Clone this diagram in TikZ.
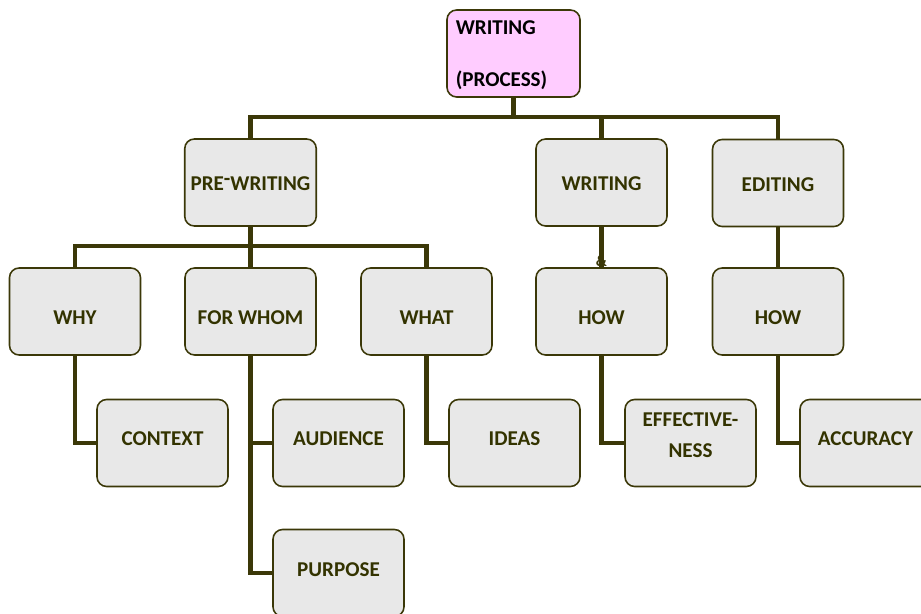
\documentclass[tikz,border=0pt]{standalone}
\usepackage{fontspec}
\setmainfont{Carlito}
\usepackage{xcolor}
\usetikzlibrary{calc}
\definecolor{olive}{HTML}{3B3808}
\definecolor{inkdark}{HTML}{333300}
\definecolor{boxgray}{HTML}{E8E8E8}
\definecolor{boxpink}{HTML}{FFCCFF}
% move a label inside its box without changing the box
\newcommand{\nudge}[2]{\raisebox{#1}[\height][\depth]{#2}}

\begin{document}
\begin{tikzpicture}[
        box/.style={draw=olive,line width=0.9pt,fill=boxgray,rounded corners=5.5pt,
          minimum width=2.62cm,minimum height=1.74cm,align=center,
          text=inkdark,font=\fontsize{12}{14}\selectfont\bfseries},
        topbox/.style={box,fill=boxpink,text=black,align=left,text width=2.66cm-10pt,
          inner xsep=5pt,minimum width=2.66cm},
        link/.style={draw=olive,line width=2.3pt,line join=miter}
    ]
        \useasboundingbox (0,0) rectangle (18.42,-12.28);
        \clip (0,0) rectangle (18.42,-12.28);

        % top of the tree
        \node[topbox] (proc) at (10.27,-1.07) {\nudge{-1pt}{WRITING}\\[15.5pt]\nudge{-1pt}{(PROCESS)}};

        % stages
        \node[box] (prew) at (5.01,-3.65) {\nudge{-0.5pt}{PRE\raisebox{2.5pt}{-}WRITING}};
        \node[box] (wri)  at (12.03,-3.65) {\nudge{-0.5pt}{WRITING}};
        \node[box] (edit) at (15.56,-3.66) {\nudge{-1pt}{EDITING}};

        % questions
        \node[box] (why)   at (1.50,-6.23) {\nudge{-3.4pt}{WHY}};
        \node[box] (whom)  at (5.01,-6.23) {\nudge{-3.4pt}{FOR WHOM}};
        \node[box] (what)  at (8.53,-6.23) {\nudge{-3.4pt}{WHAT}};
        \node[box] (howw)  at (12.03,-6.23) {\nudge{-3.4pt}{HOW}};
        \node[box] (howe)  at (15.56,-6.23) {\nudge{-3.4pt}{HOW}};

        % answers
        \node[box] (ctx)   at (3.25,-8.86) {\nudge{2.3pt}{CONTEXT}};
        \node[box] (aud)   at (6.77,-8.86) {\nudge{2.3pt}{AUDIENCE}};
        \node[box] (ideas) at (10.29,-8.86) {\nudge{2.3pt}{IDEAS}};
        \node[box] (eff)   at (13.81,-8.86)
            {\nudge{3.3pt}{\begin{tabular}{@{}c@{}}EFFECTIVE-\\[4pt]NESS\end{tabular}}};
        \node[box] (acc)   at (17.31,-8.86) {\nudge{2.3pt}{ACCURACY}};
        \node[box] (purp)  at (6.77,-11.46) {\nudge{1.7pt}{PURPOSE}};

        \coordinate (busA) at (0,-2.34);
        \coordinate (busB) at (0,-4.92);

        \draw[link] (proc) -- (proc |- busA) -| (prew);
        \draw[link] (proc |- busA) -| (wri);
        \draw[link] (proc |- busA) -| (edit);

        \draw[link] (prew) -- (prew |- busB) -| (why);
        \draw[link] (prew |- busB) -| (what);
        \draw[link] (prew |- busB) -- (whom);

        \draw[link] (wri) -- (howw);
        \node[anchor=south,inner sep=0pt,text=olive,font=\fontsize{9}{9}\selectfont\bfseries]
            (amp) at (howw.north) {\&};
        \draw[link] (edit) -- (howe);

        \draw[link] (why) |- (ctx);
        \draw[link] (whom) |- (aud);
        \draw[link] (whom) |- (purp);
        \draw[link] (what) |- (ideas);
        \draw[link] (howw) |- (eff);
        \draw[link] (howe) |- (acc);
      \end{tikzpicture}
\end{document}
